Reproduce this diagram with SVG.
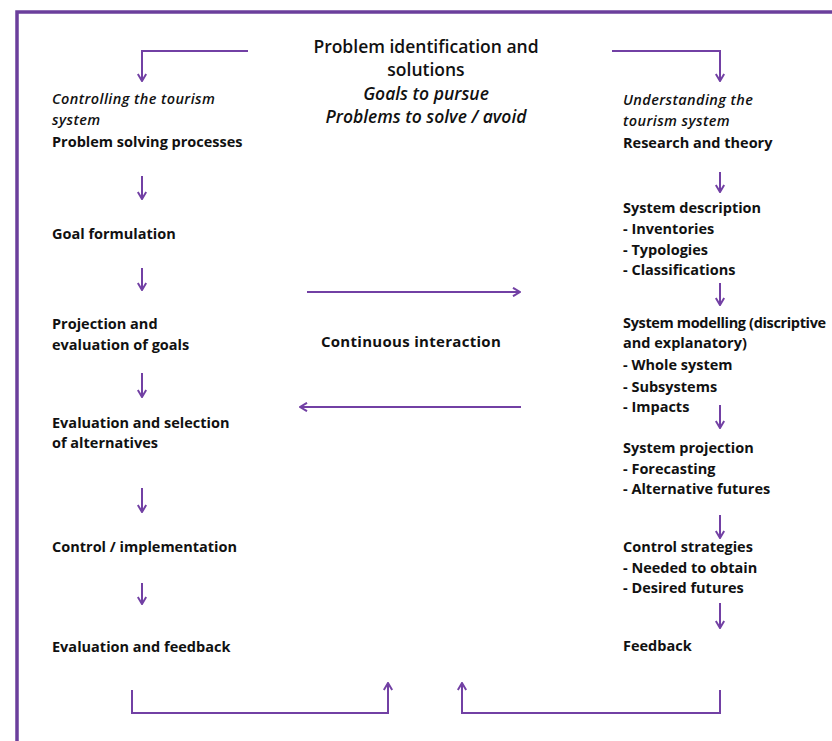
<svg xmlns="http://www.w3.org/2000/svg" width="832" height="741" viewBox="0 0 832 741">
<style>
.t{font-family:"Open Sans","Liberation Sans",sans-serif;font-size:14.5px;font-weight:700;fill:#111}
.i{font-style:italic;font-weight:600;letter-spacing:0.4px}
.m{font-size:15px;letter-spacing:0.3px}
.n{letter-spacing:-0.35px}
.h{font-family:"Open Sans","Liberation Sans",sans-serif;font-size:17.5px;font-weight:600;fill:#111}
.c{fill:none;stroke:#7240a4;stroke-width:2}
.frame{fill:none;stroke:#6b3f9c;stroke-width:3.5}
</style>
<defs>
<marker id="ah" markerUnits="userSpaceOnUse" viewBox="0 0 10 10" refX="9" refY="5" markerWidth="10" markerHeight="10" orient="auto">
<path d="M2,0.8 L9,5 L2,9.2" fill="none" stroke="#7240a4" stroke-width="2"/>
</marker>
</defs>
<rect width="832" height="741" fill="#fff"/>
<path class="frame" d="M17,741 V12 H832"/>

<g id="title">
<text class="h" x="426" y="53" text-anchor="middle">Problem identification and</text>
<text class="h" x="426" y="76" text-anchor="middle">solutions</text>
<text class="h" x="426" y="100" text-anchor="middle" font-style="italic">Goals to pursue</text>
<text class="h" x="426" y="123" text-anchor="middle" font-style="italic">Problems to solve / avoid</text>
</g>

<g id="left-controlling">
<text class="t i" x="52" y="104">Controlling the tourism</text>
<text class="t i" x="52" y="125">system</text>
<text class="t" x="52" y="147">Problem solving processes</text>
</g>
<g id="left-goal"><text class="t" x="52" y="239">Goal formulation</text></g>
<g id="left-projection">
<text class="t" x="52" y="329">Projection and</text>
<text class="t" x="52" y="350">evaluation of goals</text>
</g>
<g id="left-evaluation">
<text class="t" x="52" y="428">Evaluation and selection</text>
<text class="t" x="52" y="448">of alternatives</text>
</g>
<g id="left-control"><text class="t" x="52" y="552">Control / implementation</text></g>
<g id="left-feedback"><text class="t" x="52" y="652">Evaluation and feedback</text></g>

<g id="middle"><text class="t m" x="411" y="347" text-anchor="middle">Continuous interaction</text></g>

<g id="right-understanding">
<text class="t i" x="623" y="105">Understanding the</text>
<text class="t i" x="623" y="126">tourism system</text>
<text class="t" x="623" y="148">Research and theory</text>
</g>
<g id="right-description">
<text class="t" x="623" y="213">System description</text>
<text class="t" x="623" y="234">- Inventories</text>
<text class="t" x="623" y="255">- Typologies</text>
<text class="t" x="623" y="275">- Classifications</text>
</g>
<g id="right-modelling">
<text class="t n" x="623" y="328">System modelling (discriptive</text>
<text class="t" x="623" y="348">and explanatory)</text>
<text class="t" x="623" y="370">- Whole system</text>
<text class="t" x="623" y="392">- Subsystems</text>
<text class="t" x="623" y="412">- Impacts</text>
</g>
<g id="right-projection">
<text class="t" x="623" y="453">System projection</text>
<text class="t" x="623" y="474">- Forecasting</text>
<text class="t" x="623" y="494">- Alternative futures</text>
</g>
<g id="right-control">
<text class="t" x="623" y="552">Control strategies</text>
<text class="t" x="623" y="573">- Needed to obtain</text>
<text class="t" x="623" y="593">- Desired futures</text>
</g>
<g id="right-feedback"><text class="t" x="623" y="651">Feedback</text></g>

<g id="connectors">
<path class="c" d="M248,51 H142 V81" marker-end="url(#ah)"/>
<path class="c" d="M612,51 H720 V81" marker-end="url(#ah)"/>
<path class="c" d="M142,176 V199" marker-end="url(#ah)"/>
<path class="c" d="M142,268 V290" marker-end="url(#ah)"/>
<path class="c" d="M142,373 V397" marker-end="url(#ah)"/>
<path class="c" d="M142,488 V512" marker-end="url(#ah)"/>
<path class="c" d="M142,583 V604" marker-end="url(#ah)"/>
<path class="c" d="M720,172 V192" marker-end="url(#ah)"/>
<path class="c" d="M720,283 V305" marker-end="url(#ah)"/>
<path class="c" d="M720,405 V428" marker-end="url(#ah)"/>
<path class="c" d="M720,515 V538" marker-end="url(#ah)"/>
<path class="c" d="M720,603 V628" marker-end="url(#ah)"/>
<path class="c" d="M307,292 H520" marker-end="url(#ah)"/>
<path class="c" d="M521,407 H300" marker-end="url(#ah)"/>
<path class="c" d="M132,690 V713 H388 V683" marker-end="url(#ah)"/>
<path class="c" d="M720,690 V713 H462 V683" marker-end="url(#ah)"/>
</g>
</svg>
